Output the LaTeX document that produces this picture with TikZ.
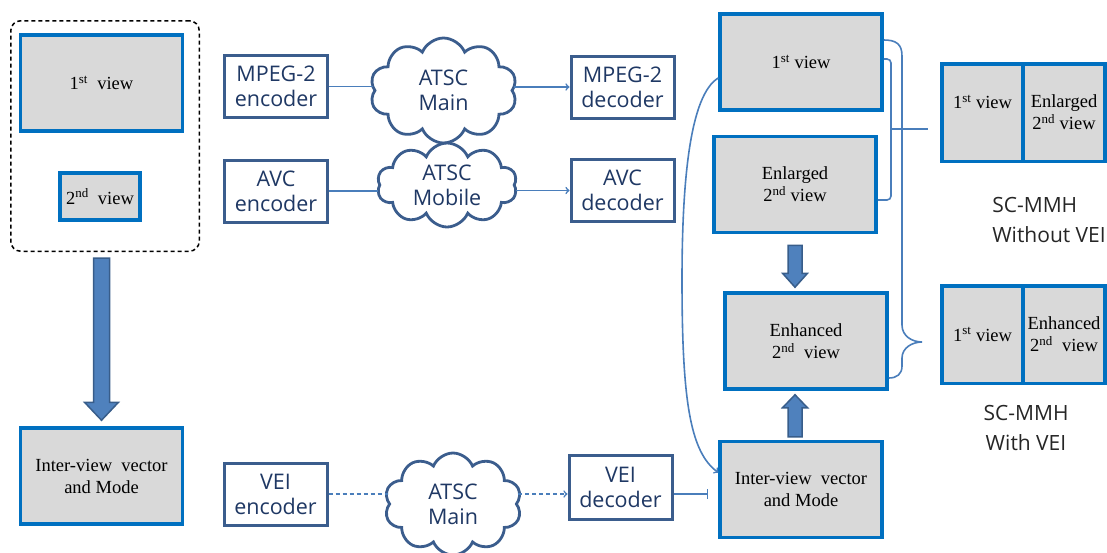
\documentclass[tikz,border=0pt]{standalone}
\usepackage{fontspec}
\setmainfont{Liberation Serif}
\setsansfont{Open Sans}
\usetikzlibrary{shapes.symbols,calc}

\definecolor{viewblue}{HTML}{0070C0}
\definecolor{viewgray}{HTML}{D9D9D9}
\definecolor{codecedge}{HTML}{3B5D8D}
\definecolor{codectext}{HTML}{1F3864}
\definecolor{linkblue}{HTML}{4A7EBB}
\definecolor{fatfill}{HTML}{4F81BD}
\definecolor{fatedge}{HTML}{385D8A}

\tikzset{
  viewbox/.style={draw=viewblue, fill=viewgray, line width=3.5pt, align=center, inner sep=0pt,
    minimum width=162pt, minimum height=96pt, font=\fontsize{18.5}{22}\selectfont},
  codec/.style={draw=codecedge, line width=3pt, fill=white, text=codectext, align=center, inner sep=0pt,
    minimum width=103pt, minimum height=62pt, font=\sffamily\fontsize{21.5}{25}\selectfont},
  net/.style={cloud, cloud puffs=10, cloud puff arc=135, cloud ignores aspect, draw=codecedge, line width=2.8pt,
    text=codectext, align=center, inner sep=0pt, font=\sffamily\fontsize{21.5}{25}\selectfont},
  link/.style={draw=linkblue, line width=1.6pt},
  fat/.style={draw=fatedge, fill=fatfill, line width=1.5pt},
  dashgroup/.style={draw, dash pattern=on 4pt off 3pt, line width=1.5pt, rounded corners=10pt, inner sep=0pt},
  sclabel/.style={text=black!85, font=\sffamily\fontsize{21}{30}\selectfont}
}

\begin{document}
\begin{tikzpicture}[x=1pt, y=-1pt]
    \useasboundingbox (0,0) rectangle (1107,552);
    % source side
    \node[dashgroup, minimum width=188.5pt, minimum height=230.5pt] (src) at (105,136) {};
    \node[viewbox] (srcA) at (101.5,83) {1\textsuperscript{st}~ view};
    \node[viewbox, minimum width=80pt, minimum height=47pt] (srcB) at (100,196.5) {2\textsuperscript{nd}~ view};
    \node[viewbox] (ivL) at (101.5,476) {Inter-view~ vector\\and Mode};
    \draw[fat] let \p1=(src.south), \p2=(ivL.north) in
        (\x2-8pt,\y1-6pt) -- (\x2+8pt,\y1-6pt) -- (\x2+8pt,\y2+24pt) -- (\x2+17pt,\y2+24pt)
        -- (\x2,\y2+6pt) -- (\x2-17pt,\y2+24pt) -- (\x2-8pt,\y2+24pt) -- cycle;
    % codecs and channels
    \node[codec] (encA) at (276,86.5) {MPEG-2\\encoder};
    \node[codec] (encB) at (276,191) {AVC\\encoder};
    \node[codec] (encC) at (275.5,494) {VEI\\encoder};
    \node[codec] (decA) at (622.5,87) {MPEG-2\\decoder};
    \node[codec] (decB) at (622.5,190.5) {AVC\\decoder};
    \node[codec, minimum height=64pt] (decC) at (620.5,487) {VEI\\decoder};
    \node[net, minimum width=147pt, minimum height=105pt] (netA) at (443.5,90.5) {ATSC\\Main};
    \node[net, minimum width=140pt, minimum height=84pt] (netB) at (447,185) {ATSC\\Mobile};
    \node[net, minimum width=137pt, minimum height=102pt] (netC) at (453,504) {ATSC\\Main};
    \draw[link] (encA.east) -- (netA.west |- encA.east);
    \draw[link,->] (netA.east |- decA.west) -- (decA.west);
    \draw[link] (encB.east) -- (netB.west |- encB.east);
    \draw[link,->] (netB.east |- decB.west) -- (decB.west);
    \draw[link, dash pattern=on 4pt off 3pt] (encC.east) -- (netC.west |- encC.east);
    \draw[link, dash pattern=on 4pt off 3pt, ->] (netC.east |- encC.east) -- (decC.west |- encC.east);
    % receiver side
    \node[viewbox] (viewA) at (801,62) {1\textsuperscript{st} view};
    \node[viewbox] (viewB) at (795,184.5) {Enlarged\\2\textsuperscript{nd} view};
    \node[viewbox] (viewC) at (806,341) {Enhanced\\2\textsuperscript{nd}~ view};
    \node[viewbox] (ivR) at (801,489.5) {Inter-view~ vector\\and Mode};
    \coordinate (veiout) at ([yshift=-7pt]decC.east);
    \draw[link, -|, shorten >=10pt] (veiout) -- (veiout -| ivR.west);
    \draw[fat] let \p1=(viewB.south), \p2=(viewC.north) in
        (\x1-7pt,\y1-11pt) -- (\x1+7pt,\y1-11pt) -- (\x1+7pt,\y2+18pt) -- (\x1+12.5pt,\y2+18pt)
        -- (\x1,\y2+4pt) -- (\x1-12.5pt,\y2+18pt) -- (\x1-7pt,\y2+18pt) -- cycle;
    \draw[fat] let \p1=(ivR.north), \p2=(viewC.south), \p3=(viewB.south) in
        (\x3-7pt,\y1+3pt) -- (\x3+7pt,\y1+3pt) -- (\x3+7pt,\y2-17pt) -- (\x3+12.5pt,\y2-17pt)
        -- (\x3,\y2-4pt) -- (\x3-12.5pt,\y2-17pt) -- (\x3-7pt,\y2-17pt) -- cycle;
    \draw[link, ->] ([yshift=-16pt]viewA.west) .. controls (690,95) and (682,180) .. (682,280)
        .. controls (682,400) and (690,452) .. ([yshift=17pt]ivR.west);
    % side by side outputs
    \node[viewbox, minimum width=81pt, minimum height=97.5pt] (mixA) at (982.5,112.5) {1\textsuperscript{st} view\\\mbox{}};
    \node[viewbox, minimum width=82pt, minimum height=97.5pt] (mixB) at (1064,112.5) {Enlarged\\2\textsuperscript{nd} view};
    \node[viewbox, minimum width=81pt, minimum height=97.5pt] (mixC) at (982.5,334.5) {1\textsuperscript{st} view};
    \node[viewbox, minimum width=82pt, minimum height=97.5pt] (mixD) at (1064,334.5) {Enhanced\\2\textsuperscript{nd}~ view};
    \node[sclabel, align=left] (capA) at (1049,220) {SC-MMH\\Without VEI};
    \node[sclabel, align=center] (capB) at (1026,428) {SC-MMH\\With VEI};
    % braces
    \coordinate (tickA) at (928,129);
    \coordinate (tipB) at (922,342);
    \draw[link, rounded corners=4pt] ([yshift=3pt]viewA.east) -- (891,59) -- (891,200) -- ([yshift=-15.5pt]viewB.east);
    \draw[link] (891,129) -- (tickA);
    \draw[link] ([yshift=22pt]viewA.east) .. controls (896,40) and (902,44) .. (902,56) -- (902,325)
        .. controls (902,336) and (912,342) .. (tipB) .. controls (912,342) and (902,348) .. (902,358)
        -- (902,366) .. controls (902,374) and (897,378) .. ([yshift=-37pt]viewC.east);
\end{tikzpicture}
\end{document}
